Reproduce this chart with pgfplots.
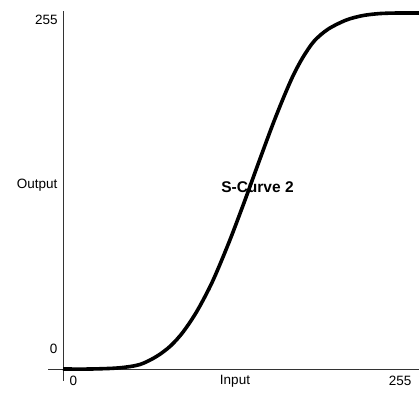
\documentclass[border=0pt]{standalone}
\usepackage{fontspec}
\setmainfont{Liberation Sans}
\usepackage{pgfplots}
\pgfplotsset{compat=1.18}
\begin{document}
\begin{tikzpicture}[font=\fontsize{13.5bp}{15bp}\selectfont]
\useasboundingbox (-63bp,-25bp) rectangle (356bp,369bp);
\begin{axis}[
  at={(0,0)}, anchor=south west,
  scale only axis, width=356bp, height=356bp,
  xmin=0, xmax=255, ymin=0, ymax=255,
  axis lines=none, clip=false,
]
\draw[line width=0.9bp, black!80] (axis cs:0,256.4) -- (axis cs:0,-8.6);
\draw[line width=0.9bp, black!80] (axis cs:-10.7,0) -- (axis cs:255,0);
\addplot[black, line width=3.6bp, smooth] coordinates {
(0,0) (20,0) (40,0.8) (55,3.2) (67,9) (77,16.5) (86,26.5) (96,41.5) (107,62.5)
(119,91) (130,120) (140,147.5) (150,174.5) (158,194.5) (165,210.5) (172,223.5)
(180,235) (190,243.5) (203,250) (215,253.2) (227,254.6) (240,255) (255,255)
};
\node[anchor=east] at (axis cs:-1.4,249.9) {255};
\node at (axis cs:-6.8,14.7) {0};
\node at (axis cs:7.5,-8.6) {0};
\node at (axis cs:123.2,-8.6) {Input};
\node at (axis cs:241.4,-8.6) {255};
\node at (axis cs:-18.6,131.8) {Output};
\node[font=\bfseries\fontsize{15.5bp}{17bp}\selectfont] at (axis cs:139.3,130.0) {S-Curve 2};
\end{axis}
\end{tikzpicture}
\end{document}
